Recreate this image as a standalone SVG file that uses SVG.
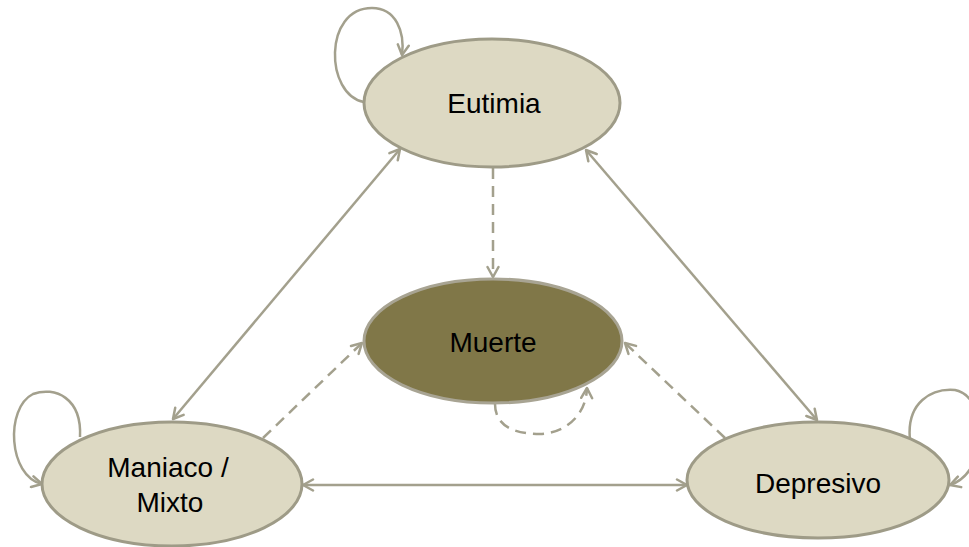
<svg xmlns="http://www.w3.org/2000/svg" width="969" height="547" viewBox="0 0 969 547">
  <style>
    .state { fill: #DDD9C3; stroke: #9E9B87; stroke-width: 3; }
    .death { fill: #807748; stroke: #A8A493; stroke-width: 3; }
    .label { font-family: "Liberation Sans", Arial, sans-serif; font-size: 28px; fill: #000; text-anchor: middle; }
    .edge { fill: none; stroke: #A3A08D; stroke-width: 2.5; }
    .dash { stroke-dasharray: 11 7; }
  </style>
  <defs>
    <marker id="arrow" viewBox="0 0 14 14" refX="12" refY="7" markerWidth="14" markerHeight="14" markerUnits="userSpaceOnUse" orient="auto-start-reverse">
      <path d="M2,1.5 L12,7 L2,12.5" fill="none" stroke="#A3A08D" stroke-width="2.5" stroke-linecap="round" stroke-linejoin="round"/>
    </marker>
  </defs>

  <!-- transitions -->
  <g id="connectors">
    <!-- self loops -->
    <path class="edge" d="M364,102 C 325,95 323,8 372,8 C 396,8 405,32 402,55" marker-end="url(#arrow)"/>
    <path class="edge" d="M80,437 C 82,398 55,386 33,394 C 5,408 8,476 42,484" marker-end="url(#arrow)"/>
    <path class="edge" d="M910,440 C 906,402 932,388 955,390 C 988,396 990,472 950,485" marker-end="url(#arrow)"/>
    <path class="edge dash" d="M495,404 C 495,428 518,434 540,434 C 565,433 586,416 587,388" marker-end="url(#arrow)"/>
    <!-- two-way transitions -->
    <line class="edge" x1="400" y1="149" x2="173" y2="419" marker-start="url(#arrow)" marker-end="url(#arrow)"/>
    <line class="edge" x1="586" y1="150" x2="817" y2="420" marker-start="url(#arrow)" marker-end="url(#arrow)"/>
    <line class="edge" x1="303" y1="485" x2="687" y2="485" marker-start="url(#arrow)" marker-end="url(#arrow)"/>
    <!-- transitions to death -->
    <line class="edge dash" x1="493" y1="168" x2="493" y2="277" marker-end="url(#arrow)"/>
    <line class="edge dash" x1="263" y1="438" x2="362" y2="343" marker-end="url(#arrow)"/>
    <line class="edge dash" x1="725" y1="438" x2="625" y2="343" marker-end="url(#arrow)"/>
  </g>

  <g id="eutimia">
    <ellipse class="state" cx="492" cy="103" rx="128" ry="64"/>
    <text class="label" x="494" y="113">Eutimia</text>
  </g>
  <g id="muerte">
    <ellipse class="death" cx="493" cy="341" rx="129" ry="62"/>
    <text class="label" x="493" y="352">Muerte</text>
  </g>
  <g id="maniaco">
    <ellipse class="state" cx="172" cy="484" rx="130" ry="62"/>
    <text class="label" x="168" y="477">Maniaco /</text>
    <text class="label" x="170" y="512">Mixto</text>
  </g>
  <g id="depresivo">
    <ellipse class="state" cx="818" cy="480" rx="131" ry="58"/>
    <text class="label" x="818" y="493">Depresivo</text>
  </g>
</svg>
